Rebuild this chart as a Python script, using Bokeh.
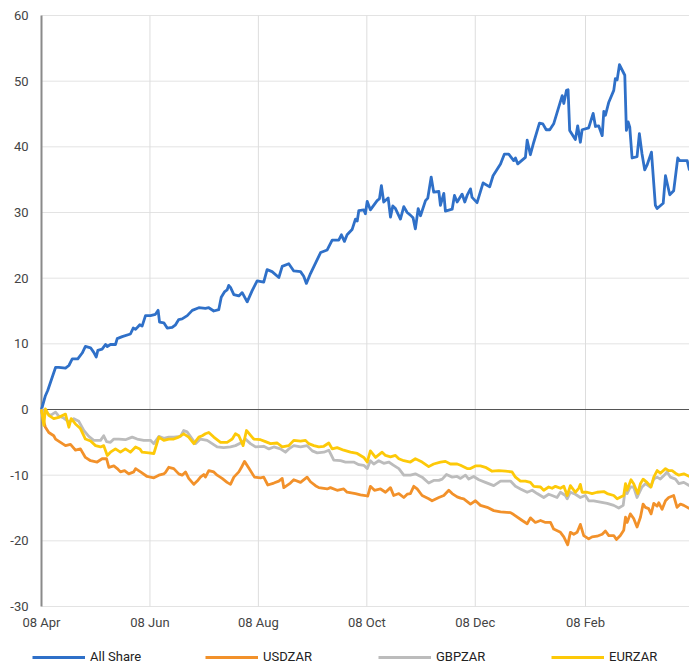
import pandas as pd
from bokeh.plotting import figure
from bokeh.models import Range1d, Legend, LegendItem
from bokeh.core.properties import value
from bokeh.embed import file_html
from bokeh.resources import INLINE

# ---- data (days since 08 Apr 2020, % change) ----
start_date = "2020-04-08"

allshare_day = [0, 2.2, 3.5, 7.9, 9.7, 13.5, 15.4, 17.3, 20.4, 22.9, 24.7, 27.6, 29.4, 30.8, 31.7, 34.1, 36, 37, 38.8, 41.6,
                42.6, 45.4, 50, 51.6, 52.9, 55.3, 56.6, 58.5, 61.3, 64.1, 65.6, 66.4, 68.8, 70.7, 73.5, 75.4, 77.2, 79.1, 82, 84.8,
                88.5, 92.2, 94.1, 96.9, 99.7, 101.1, 102.9, 104.4, 105.3, 106.3, 108.2, 111, 112.9, 115.7, 118.5, 121.3, 125, 126.9, 129.7, 133.5,
                135.4, 139.1, 141.9, 145.7, 147.5, 149, 151.3, 157, 160.7, 163.5, 167.2, 168.7, 170.4, 171.9, 174.7, 176.6, 177.6, 178.5, 181.3, 182.2,
                183.2, 185, 188.8, 190.1, 191.2, 192.5, 195, 196.3, 197.6, 199.1, 201.9, 203.8, 205.7, 207.5, 209, 210.3, 211.9, 213.2, 216, 217.3,
                219.2, 220.6, 223.5, 224.4, 226.3, 227.2, 231, 232.3, 233.8, 236.6, 238.1, 239.4, 241.3, 242.2, 245, 248.4, 252.1, 254, 258.2, 260.4,
                262.8, 265.6, 266.6, 267.9, 272.2, 273.2, 275, 276.9, 280.1, 282, 283.9, 285.9, 288.1, 292.9, 293.8, 295.3, 296.2, 297.1, 300.3, 301.6,
                303.1, 304.1, 307.8, 310.3, 311.6, 313.4, 315.4, 316.3, 317.2, 319.1, 321.9, 322.8, 323.8, 325.1, 328.1, 329, 330, 330.9, 332.2, 335,
                336.3, 337.8, 339.3, 340.6, 343.1, 345.3, 346.3, 349.7, 351, 353.4, 355.6, 357.9, 359, 363.2, 364.5]
allshare_val = [0, 2.1, 2.9, 6.4, 6.4, 6.3, 6.7, 7.7, 7.7, 8.6, 9.6, 9.4, 8.7, 8.0, 9.0, 9.2, 9.9, 9.6, 9.9, 9.9,
                10.8, 11.1, 11.5, 12.4, 12.2, 12.9, 12.7, 14.3, 14.3, 14.5, 15.1, 13.3, 13.2, 12.4, 12.5, 12.9, 13.7, 13.8, 14.3, 15.1,
                15.5, 15.4, 15.5, 15.0, 15.2, 17.1, 17.9, 18.2, 18.9, 18.6, 17.5, 17.3, 17.8, 16.4, 18.1, 19.6, 19.4, 21.3, 21.0, 20.1,
                21.8, 22.2, 21.1, 21.0, 20.3, 19.2, 20.7, 23.9, 24.3, 25.8, 25.8, 26.6, 25.6, 26.6, 27.4, 29.0, 28.7, 30.3, 30.4, 29.8,
                31.7, 30.4, 31.8, 32.1, 34.1, 31.6, 32.2, 29.3, 31.0, 30.6, 29.0, 30.9, 30.0, 29.6, 29.2, 27.5, 30.6, 29.5, 31.8, 32.2,
                35.4, 33.1, 33.2, 31.1, 32.9, 30.2, 30.5, 32.6, 31.6, 32.8, 31.6, 32.6, 33.6, 32.3, 31.5, 34.5, 33.9, 35.6, 37.4, 38.9,
                38.9, 37.9, 38.3, 37.4, 38.4, 41.0, 38.8, 40.7, 43.6, 43.5, 42.6, 42.6, 43.5, 47.8, 46.6, 48.6, 48.7, 42.5, 41.1, 43.2,
                40.7, 42.6, 42.9, 45.1, 43.1, 43.2, 41.7, 45.4, 44.8, 46.8, 48.6, 50.4, 50.2, 52.5, 50.9, 42.5, 43.8, 43.0, 38.3, 38.5,
                42.0, 38.9, 36.5, 37.2, 39.2, 31.1, 30.6, 31.4, 35.6, 32.7, 33.3, 38.3, 37.9, 37.9, 36.4]

usdzar_day = [0, 1.3, 2.2, 4.1, 6.9, 7.9, 10.7, 13.5, 16.3, 19.1, 21.9, 24.7, 27.6, 31.3, 34.1, 36.6, 37.9, 40.7, 42.6, 44.4,
              46.7, 49.1, 51.9, 52.9, 55.7, 59.4, 63.2, 66, 68.8, 69.7, 71.6, 74.4, 77.2, 79.1, 81, 82.8, 85.7, 87.6, 89.4, 91.3,
              92.2, 94.1, 96.9, 98.8, 101.6, 104.4, 106.3, 108.2, 111, 112.9, 114.2, 116.6, 119.8, 123.2, 125, 127.3, 130.7, 133.5, 135.4, 136.3,
              140, 141.9, 145.7, 149.4, 151.3, 154.1, 156, 160.7, 162.5, 166.3, 170, 171.9, 176.6, 179.4, 182.2, 183.5, 185, 187.3, 190.7, 193.5,
              196.3, 198.1, 201, 203.8, 205.7, 207.5, 209.4, 211.3, 214.1, 217.8, 219.7, 223.5, 226.3, 229.1, 231, 233.8, 235.7, 237.5, 241.3, 244.1,
              246.9, 250.7, 254.4, 258.2, 263.8, 265.6, 270.4, 273.2, 275, 277.8, 280.7, 283.5, 286.3, 288.1, 291.9, 293.8, 296, 297.5, 299.4, 301.3,
              303.1, 305, 307.8, 309.7, 312.5, 315.4, 317.2, 319.1, 321.9, 323.4, 325.6, 327.5, 328.5, 329.4, 331.2, 333.1, 335, 336.9, 338.4, 339.7,
              341.5, 342.9, 344.4, 346.3, 347.2, 349.1, 351, 352.8, 355.6, 357.5, 359.4, 361.3, 364.5]
usdzar_val = [0, -1.9, -2.7, -3.5, -4.0, -4.5, -5.0, -5.5, -5.3, -6.2, -6.0, -7.3, -7.8, -8.0, -7.5, -7.5, -8.8, -8.6, -9.0, -9.5,
              -9.3, -9.8, -9.5, -9.0, -9.5, -10.2, -10.4, -10.0, -9.8, -9.6, -8.8, -9.0, -9.8, -10.0, -9.5, -10.5, -11.4, -10.9, -10.3, -9.9,
              -10.3, -9.3, -9.5, -10.0, -10.5, -11.1, -11.4, -10.3, -9.5, -8.6, -7.9, -8.9, -10.3, -10.4, -10.3, -11.5, -11.2, -10.9, -10.5, -11.9,
              -11.2, -10.7, -11.1, -10.3, -11.0, -11.6, -11.9, -12.1, -11.9, -12.3, -12.1, -12.6, -12.8, -13.0, -13.1, -13.2, -11.7, -12.3, -12.1, -12.6,
              -11.9, -13.1, -12.8, -13.4, -12.9, -12.8, -11.7, -12.1, -13.1, -13.6, -13.9, -13.4, -13.1, -12.3, -12.8, -13.3, -13.5, -13.6, -14.4, -13.9,
              -14.6, -14.9, -15.4, -15.6, -15.7, -16.0, -16.9, -17.4, -16.5, -17.2, -16.9, -17.2, -17.2, -18.2, -18.7, -19.4, -20.6, -18.7, -19.0, -18.7,
              -17.5, -19.2, -19.7, -19.4, -19.3, -19.0, -18.5, -19.2, -19.2, -19.8, -19.2, -18.4, -16.4, -17.2, -15.9, -16.6, -17.9, -16.4, -14.4, -14.9,
              -15.1, -15.9, -14.3, -14.7, -14.2, -15.2, -13.9, -13.4, -13.1, -14.9, -14.4, -14.6, -15.1]

gbpzar_day = [0, 2.2, 5.1, 7.9, 9.7, 12.5, 15.4, 18.2, 21, 23.8, 26.6, 29.4, 33.2, 35, 36.6, 38.8, 40.7, 43.5, 47.2, 51,
              53.8, 57.5, 61.3, 63.2, 66, 68.8, 71.6, 74.4, 78.2, 80, 81.9, 84.8, 86.6, 89.4, 93.2, 96, 98.8, 102.5, 106.3, 109.1,
              112.9, 114.7, 117.5, 120.4, 125, 127.9, 130.7, 134.4, 137.2, 139.1, 141.9, 145.7, 149.4, 152.3, 155.1, 158.8, 161.6, 164.4, 168.2, 171,
              175.6, 178.5, 181.3, 183.2, 185, 186.9, 189.7, 192.5, 195.3, 198.1, 201, 203.8, 207.5, 210.3, 214.1, 217.8, 220.6, 223.5, 225.4, 227.8,
              231, 233.8, 235.7, 238.5, 240.3, 243.1, 246, 249.7, 254.4, 258.2, 263.8, 266.6, 269.4, 273.2, 276, 278.8, 282.5, 285.3, 287.2, 290,
              291.9, 294.7, 295.7, 297.5, 300.3, 303.1, 305.9, 307.8, 310.6, 314.4, 318.2, 321.9, 324.7, 327.2, 328.5, 329.4, 331.2, 333.1, 335, 337.8,
              339.7, 342.5, 344.4, 346.3, 348.1, 350, 351.9, 353.8, 356.6, 358.5, 361.3, 364.5]
gbpzar_val = [0, -0.4, -0.9, -0.4, -1.0, -1.3, -1.9, -1.4, -1.8, -3.2, -4.1, -4.7, -4.7, -4.0, -4.9, -5.0, -4.5, -4.5, -4.6, -4.2,
              -4.5, -4.7, -4.7, -5.2, -4.1, -4.4, -4.2, -4.2, -4.1, -3.2, -3.4, -4.5, -5.2, -4.5, -4.7, -5.2, -5.7, -5.8, -5.7, -5.5,
              -5.0, -4.5, -5.2, -5.7, -5.6, -6.0, -5.7, -6.0, -6.5, -6.0, -5.5, -5.7, -5.5, -6.3, -6.6, -6.5, -6.2, -7.7, -7.8, -8.0,
              -8.0, -8.4, -8.5, -9.0, -7.8, -8.3, -7.8, -8.2, -8.0, -8.5, -9.0, -10.0, -10.0, -9.8, -10.3, -11.2, -10.8, -10.8, -10.6, -9.9,
              -10.3, -10.2, -10.5, -10.0, -10.6, -10.2, -10.7, -11.1, -11.6, -10.9, -10.9, -11.7, -12.1, -12.6, -12.3, -12.8, -13.4, -12.9, -13.1, -13.4,
              -12.6, -13.1, -13.6, -12.6, -12.9, -13.4, -13.1, -13.9, -13.9, -14.1, -14.3, -14.6, -15.0, -14.6, -11.8, -12.8, -11.8, -11.8, -13.4, -11.8,
              -11.3, -11.8, -10.6, -10.3, -10.6, -10.1, -9.5, -10.3, -10.6, -11.3, -11.1, -11.6]

eurzar_day = [0, 1.3, 2.2, 4.1, 6.9, 9.7, 13.5, 15.4, 16.7, 19.1, 21.9, 24.7, 27.6, 30.4, 33.2, 35, 37, 38.8, 41.6, 44.4,
              47.2, 50, 52.9, 55.3, 56.6, 60.3, 63.2, 66, 68.8, 71.6, 74.4, 77.2, 80, 82.8, 85.7, 88.5, 90.4, 92.2, 94.1, 96.9,
              100.7, 104.4, 107.3, 109.1, 111, 113.4, 115.3, 117.5, 119.4, 123.2, 126, 128.8, 132.6, 135.4, 139.1, 141.9, 145.7, 148.5, 150.3, 153.2,
              156, 158.8, 161.6, 163.5, 166.3, 170, 173.8, 177.6, 181.3, 183.2, 185, 187.9, 191.6, 193.5, 196.3, 199.1, 201, 203.8, 207.5, 210.3,
              214.1, 217.8, 220.6, 224.4, 227.2, 230, 233.8, 235.7, 239.4, 241.3, 244.1, 246.9, 249.7, 253.5, 257.2, 261, 264.7, 266.6, 269.4, 272.2,
              275, 276.9, 280.7, 282.5, 285.3, 287.2, 289.1, 291.9, 293.8, 295.7, 297.5, 300.3, 302.2, 303.1, 304.1, 306.9, 309.7, 312.5, 316.3, 318.2,
              321.9, 323.8, 327.5, 328.5, 329.4, 331.6, 333.1, 335.4, 336.9, 338.4, 340.6, 342.9, 344.4, 346.3, 348.1, 351, 352.8, 354.7, 356.6, 358.5,
              361.3, 364.5]
eurzar_val = [0, -2.4, 0.1, -0.9, -1.4, -1.2, -0.7, -2.7, -1.4, -2.2, -2.9, -4.5, -4.8, -5.5, -5.7, -5.5, -7.0, -6.5, -6.0, -6.5,
              -6.0, -6.5, -5.7, -6.0, -6.5, -6.6, -6.7, -4.2, -4.7, -4.5, -4.5, -4.2, -3.7, -4.2, -5.2, -4.2, -4.0, -3.7, -3.5, -4.2,
              -5.0, -5.0, -4.5, -3.7, -4.0, -5.5, -3.2, -3.9, -4.5, -4.6, -4.9, -5.2, -5.1, -5.7, -5.5, -4.7, -4.8, -4.7, -5.2, -5.5,
              -5.7, -5.6, -5.1, -6.0, -5.8, -6.2, -6.5, -6.7, -7.3, -8.0, -6.3, -7.3, -6.5, -7.0, -7.2, -7.0, -7.5, -7.8, -8.0, -7.5,
              -8.0, -8.7, -8.3, -8.0, -7.9, -8.3, -8.3, -8.5, -9.0, -9.0, -8.6, -8.6, -8.8, -9.4, -9.3, -9.4, -9.5, -10.3, -10.9, -10.9,
              -11.1, -11.7, -11.8, -12.3, -11.8, -12.0, -11.7, -12.0, -11.7, -13.1, -11.6, -12.6, -12.0, -11.4, -12.6, -12.6, -12.8, -12.6, -12.5, -12.8,
              -13.1, -13.6, -13.1, -11.3, -12.3, -10.7, -11.3, -12.8, -11.3, -10.6, -11.1, -11.8, -10.3, -9.3, -9.7, -9.0, -9.3, -9.3, -9.7, -10.0,
              -9.8, -10.2]

series_names = ["All Share", "USDZAR", "GBPZAR", "EURZAR"]
series_colors = ["#2f70c8", "#f2912a", "#bcbcbc", "#fdc908"]

x_tick_dates = ["2020-04-08", "2020-06-08", "2020-08-08", "2020-10-08", "2020-12-08", "2021-02-08"]
x_tick_labels = ["08 Apr", "08 Jun", "08 Aug", "08 Oct", "08 Dec", "08 Feb"]
y_ticks = [-30, -20, -10, 0, 10, 20, 30, 40, 50, 60]
y_tick_labels = ["-30", "-20", "-10", "0", "10", "20", "30", "40", "50", "60"]
x_end_day = 364.5

# ---- layout constants (pixels) ----
W, H = 689, 664
PLOT_L, PLOT_R, PLOT_T, PLOT_B = 41, 689, 15, 606
FONT = "Roboto"

base = pd.Timestamp(start_date)
end = base + pd.Timedelta(days=x_end_day)
days_per_px = x_end_day / (PLOT_R - PLOT_L)
units_per_px = (y_ticks[-1] - y_ticks[0]) / (PLOT_B - PLOT_T)
x_range = Range1d(base - pd.Timedelta(days=PLOT_L * days_per_px),
                  end + pd.Timedelta(days=(W - PLOT_R) * days_per_px))
y_range = Range1d(y_ticks[0] - (H - PLOT_B) * units_per_px,
                  y_ticks[-1] + PLOT_T * units_per_px)


def to_dates(days):
    return [base + pd.Timedelta(days=d) for d in days]


p = figure(width=W, height=H, output_backend="svg", toolbar_location=None,
           x_axis_type="datetime", x_range=x_range, y_range=y_range,
           min_border=0, min_border_left=0, min_border_right=0,
           min_border_top=0, min_border_bottom=0)
p.outline_line_color = None
p.xaxis.visible = False
p.yaxis.visible = False
p.xgrid.visible = False
p.ygrid.visible = False
p.background_fill_color = "white"
p.border_fill_color = "white"

tick_ts = [pd.Timestamp(d) for d in x_tick_dates]
y_lo, y_hi = y_ticks[0], y_ticks[-1]

# gridlines
p.segment(x0=[base] * len(y_ticks), y0=y_ticks, x1=[end] * len(y_ticks), y1=y_ticks,
          line_color="#e3e3e3", line_width=1)
p.segment(x0=tick_ts[1:], y0=[y_lo] * (len(tick_ts) - 1), x1=tick_ts[1:], y1=[y_hi] * (len(tick_ts) - 1),
          line_color="#dddddd", line_width=1)
# left axis line
p.segment(x0=[base], y0=[y_lo], x1=[base], y1=[y_hi], line_color="#8a8a8a", line_width=2)

# tick labels
p.text(x=[base] * len(y_ticks), y=y_ticks, text=y_tick_labels, x_offset=-13,
       text_align="right", text_baseline="middle", text_font=value(FONT),
       text_font_size="13px", text_color="#444444")
p.text(x=tick_ts, y=[y_lo] * len(tick_ts), text=x_tick_labels, y_offset=16,
       text_align="center", text_baseline="middle", text_font=value(FONT),
       text_font_size="13px", text_color="#444444")

# zero baseline
p.segment(x0=[base], y0=[0], x1=[end], y1=[0], line_color="#555555", line_width=1.2)

# series
all_days = [allshare_day, usdzar_day, gbpzar_day, eurzar_day]
all_vals = [allshare_val, usdzar_val, gbpzar_val, eurzar_val]
items = []
for name, color, d, v in zip(series_names, series_colors, all_days, all_vals):
    r = p.line(to_dates(d), v, line_color=color, line_width=2.8, line_join="round")
    items.append(LegendItem(label=name, renderers=[r]))

legend = Legend(items=items, orientation="horizontal", location=(32, 0),
                glyph_width=53, glyph_height=14, label_height=14, label_standoff=5,
                label_width=60, spacing=55, padding=0, margin=0,
                label_text_font=FONT, label_text_font_size="13px", label_text_color="#222222",
                background_fill_alpha=0, border_line_alpha=0)
p.add_layout(legend, "center")

open("out.html", "w").write(file_html(p, INLINE))
